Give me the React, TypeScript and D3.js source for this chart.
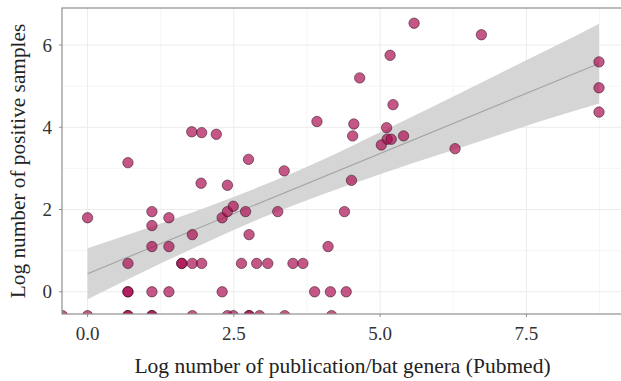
import * as d3 from "d3";

// ── Data ──────────────────────────────────────────────────────────────────────

const W = 621;
const H = 381;

// log number of publications per bat genus (x) and log number of positive samples (y)
const pubX = [
  0.0, 1.1, 1.1, 1.1, 1.39, 1.39, 1.79, 0.69, 1.61, 1.61, 1.79, 1.95,
  0.69, 0.69, 1.1, 1.39, 2.3, 2.3, 2.39, 2.49, 2.7, 2.76, 3.25,
  2.63, 2.89, 3.08, 3.51, 3.68, 3.88, 1.94, 2.39, 0.69, 2.75, 3.36,
  1.78, 1.95, 2.2, 3.92, 4.11, 4.15, 4.39, 4.42, 4.51,
  5.58, 5.17, 4.65, 5.22, 4.55, 4.53, 5.11, 5.12, 5.19, 5.02, 5.4,
  6.28, 6.73, 8.74, 8.74, 8.74,
  -0.43, 0.0, 0.69, 0.69, 1.1, 1.1, 1.79, 2.39, 2.49, 2.76, 2.76, 2.94, 3.37, 4.17,
];
const posY = [
  1.8, 1.95, 1.61, 1.1, 1.8, 1.1, 1.39, 0.69, 0.69, 0.69, 0.69, 0.69,
  0.0, 0.0, 0.0, 0.0, 0.0, 1.8, 1.95, 2.08, 1.95, 1.39, 1.95,
  0.69, 0.69, 0.69, 0.69, 0.69, 0.0, 2.64, 2.59, 3.14, 3.22, 2.94,
  3.89, 3.87, 3.83, 4.14, 1.1, 0.0, 1.95, 0.0, 2.71,
  6.53, 5.75, 5.2, 4.55, 4.08, 3.79, 3.99, 3.71, 3.71, 3.57, 3.79,
  3.48, 6.25, 5.59, 4.96, 4.37,
  -0.58, -0.58, -0.58, -0.58, -0.58, -0.58, -0.58, -0.58, -0.58, -0.58, -0.58, -0.58, -0.58, -0.58,
];

// linear fit and its confidence band
const fitX = [0, 8.74];
const fitY = [0.44, 5.55];
const bandX = [0, 1, 2, 3, 4, 5, 6, 7, 8, 8.74];
const bandLow = [-0.18, 0.52, 1.18, 1.81, 2.36, 2.86, 3.33, 3.8, 4.26, 4.58];
const bandHigh = [1.06, 1.54, 2.04, 2.59, 3.2, 3.88, 4.57, 5.28, 5.98, 6.52];

const xTicks = [0, 2.5, 5, 7.5];
const xMinor = [1.25, 3.75, 6.25, 8.75];
const yTicks = [0, 2, 4, 6];
const yMinor = [1, 3, 5];

// ── Layout ────────────────────────────────────────────────────────────────────

const PANEL = { left: 62, right: 623, top: 8, bottom: 314 };
const FONT = "'Liberation Serif', 'DejaVu Serif', serif";
const POINT_FILL = "#a8084c";

export default function App() {
  const x = d3.scaleLinear().domain([-0.437, 9.15]).range([PANEL.left, PANEL.right]);
  const y = d3.scaleLinear().domain([-0.54, 6.9]).range([PANEL.bottom, PANEL.top]);

  const band = d3
    .area<number>()
    .curve(d3.curveMonotoneX)
    .x((d) => x(d))
    .y0((_, i) => y(bandLow[i]))
    .y1((_, i) => y(bandHigh[i]))(bandX);

  const fit = d3
    .line<number>()
    .x((d) => x(d))
    .y((_, i) => y(fitY[i]))(fitX);

  const pw = PANEL.right - PANEL.left;
  const ph = PANEL.bottom - PANEL.top;

  return (
    <svg
      width={W}
      height={H}
      style={{ position: "fixed", left: 0, top: 0, background: "#fff" }}
      fontFamily={FONT}
    >
      <defs>
        <clipPath id="panel-clip">
          <rect x={PANEL.left} y={PANEL.top} width={pw} height={ph} />
        </clipPath>
      </defs>

      {/* grid */}
      <g stroke="#f3f3f3" strokeWidth={0.8}>
        {xMinor.map((t) => (
          <line key={"xm" + t} x1={x(t)} x2={x(t)} y1={PANEL.top} y2={PANEL.bottom} />
        ))}
        {yMinor.map((t) => (
          <line key={"ym" + t} x1={PANEL.left} x2={PANEL.right} y1={y(t)} y2={y(t)} />
        ))}
      </g>
      <g stroke="#ebebeb" strokeWidth={1}>
        {xTicks.map((t) => (
          <line key={"x" + t} x1={x(t)} x2={x(t)} y1={PANEL.top} y2={PANEL.bottom} />
        ))}
        {yTicks.map((t) => (
          <line key={"y" + t} x1={PANEL.left} x2={PANEL.right} y1={y(t)} y2={y(t)} />
        ))}
      </g>

      {/* smooth */}
      <path d={band ?? ""} fill="#d5d5d5" />
      <path d={fit ?? ""} fill="none" stroke="#a3a3a3" strokeWidth={1.1} />

      {/* points */}
      <g clipPath="url(#panel-clip)">
        {pubX.map((v, i) => (
          <circle
            key={i}
            cx={x(v)}
            cy={y(posY[i])}
            r={5.2}
            fill={POINT_FILL}
            fillOpacity={0.68}
            stroke="#2b0a18"
            strokeOpacity={0.75}
            strokeWidth={0.7}
          />
        ))}
      </g>

      {/* panel border */}
      <rect
        x={PANEL.left}
        y={PANEL.top}
        width={pw}
        height={ph}
        fill="none"
        stroke="#8f8f8f"
        strokeWidth={1.2}
      />

      {/* axes */}
      <g stroke="#8f8f8f" strokeWidth={1}>
        {xTicks.map((t) => (
          <line key={"xt" + t} x1={x(t)} x2={x(t)} y1={PANEL.bottom} y2={PANEL.bottom + 3} />
        ))}
        {yTicks.map((t) => (
          <line key={"yt" + t} x1={PANEL.left - 3} x2={PANEL.left} y1={y(t)} y2={y(t)} />
        ))}
      </g>
      <g fontSize={19} fill="#333">
        {xTicks.map((t) => (
          <text key={"xl" + t} x={x(t)} y={340} textAnchor="middle">
            {d3.format(".1f")(t)}
          </text>
        ))}
        {yTicks.map((t) => (
          <text key={"yl" + t} x={52} y={y(t) + 6.5} textAnchor="end">
            {t}
          </text>
        ))}
      </g>

      <text x={342.5} y={373} textAnchor="middle" fontSize={21.5} fill="#222">
        Log number of publication/bat genera (Pubmed)
      </text>
      <text
        transform={`translate(25,${(PANEL.top + PANEL.bottom) / 2}) rotate(-90)`}
        textAnchor="middle"
        fontSize={21.3}
        fill="#222"
      >
        Log number of positive samples
      </text>
    </svg>
  );
}
